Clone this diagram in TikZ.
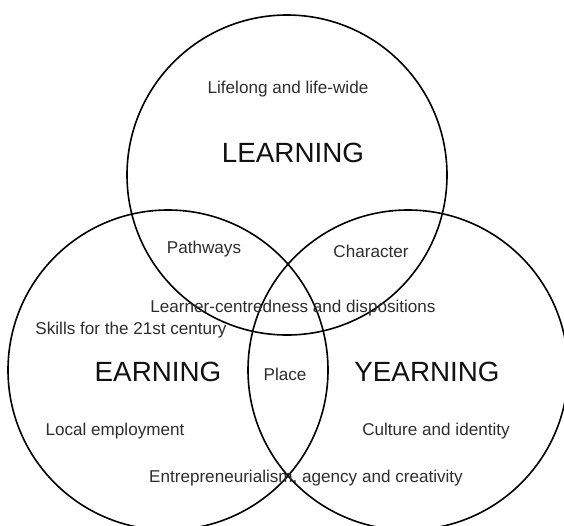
\documentclass[tikz,border=0pt]{standalone}
\usepackage{fontspec}
\setmainfont{Liberation Sans}
\definecolor{txtgray}{HTML}{2E2E2E}
\definecolor{bigtxt}{HTML}{111111}
\begin{document}
\begin{tikzpicture}[x=1pt,y=-1pt,
  ring/.style={line width=1.6pt, black},
  small/.style={font=\fontsize{17.1}{20}\selectfont, text=txtgray, inner sep=0pt, anchor=center},
  big/.style={font=\fontsize{27.8}{32}\selectfont, text=bigtxt, inner sep=0pt, anchor=center}]
\useasboundingbox (0,0) rectangle (564,525);
\clip (0,0) rectangle (564,525);
\fill[white] (0,0) rectangle (564,525);
\coordinate (cL) at (287,175);
\coordinate (cE) at (168,370);
\coordinate (cY) at (408,370);
\draw[ring] (cL) circle (160);
\draw[ring] (cE) circle (160);
\draw[ring] (cY) circle (160);
\node[small] (lifelong) at (288,89) {Lifelong and life-wide};
\node[big] (learning) at (293,153) {LEARNING};
\node[small] (pathways) at (204,249) {Pathways};
\node[small] (character) at (371,251) {Character};
\node[small] (learner) at (293,308) {Learner-centredness and dispositions};
\node[small] (skills) at (131,330) {Skills for the 21st century};
\node[big] (earning) at (158,372) {EARNING};
\node[small] (place) at (285,374) {Place};
\node[big] (yearning) at (427,372) {YEARNING};
\node[small] (local) at (115,431) {Local employment};
\node[small] (culture) at (436,431) {Culture and identity};
\node[small] (entre) at (306,478) {Entrepreneurialism, agency and creativity};
\end{tikzpicture}
\end{document}
